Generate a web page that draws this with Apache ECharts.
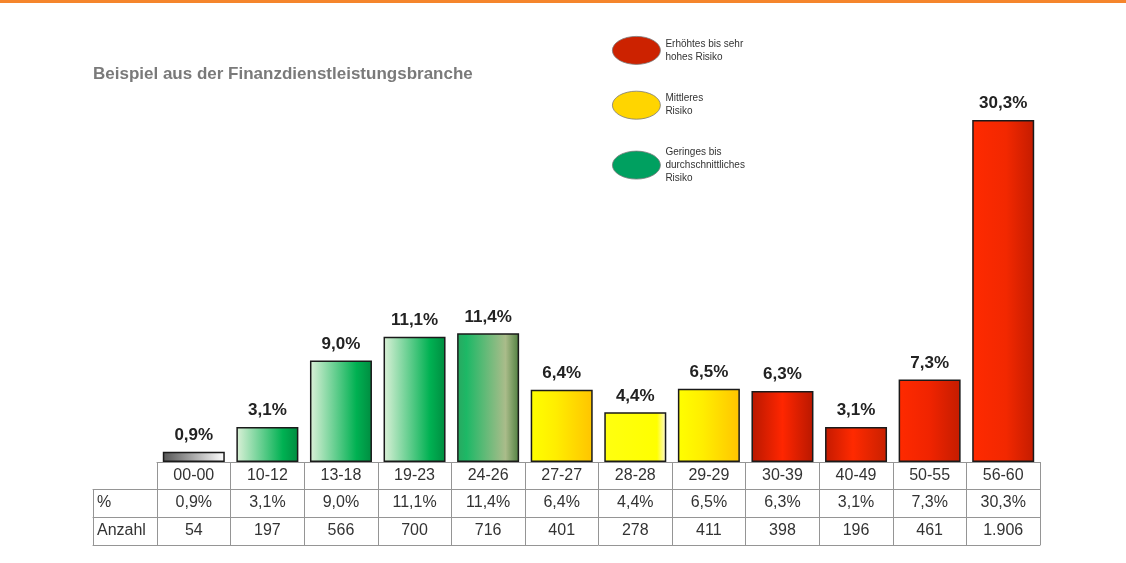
<!DOCTYPE html>
<html>
<head>
<meta charset="utf-8">
<script src="https://cdn.jsdelivr.net/npm/echarts@6/dist/echarts.min.js"></script>
<style>
html,body{margin:0;padding:0;background:#fff;}
#c{width:1126px;height:563px;}
</style>
</head>
<body>
<div id="c"></div>
<script>
// ---- data ----
const titleText = 'Beispiel aus der Finanzdienstleistungsbranche';
const categories = ['00-00','10-12','13-18','19-23','24-26','27-27','28-28','29-29','30-39','40-49','50-55','56-60'];
const percentages = [0.9, 3.1, 9.0, 11.1, 11.4, 6.4, 4.4, 6.5, 6.3, 3.1, 7.3, 30.3];
const counts = ['54','197','566','700','716','401','278','411','398','196','461','1.906'];
const rowHeaders = ['%', 'Anzahl'];
const legendNames = ['Erhöhtes bis sehr\nhohes Risiko', 'Mittleres\nRisiko', 'Geringes bis\ndurchschnittliches\nRisiko'];

// ---- styles ----
const legendColors = ['#cc2200', '#ffd500', '#00a060'];
function grad(stops){
  return {type:'linear', x:0, y:0, x2:1, y2:0,
    colorStops: stops.map(s => ({offset:s[0], color:s[1]}))};
}
const barFills = [
  grad([[0,'#555555'],[1,'#ffffff']]),
  grad([[0,'#dcf1d8'],[0.75,'#00b152'],[1,'#008c40']]),
  grad([[0,'#dcf1d8'],[0.75,'#00b152'],[1,'#008c40']]),
  grad([[0,'#dcf1d8'],[0.75,'#00b152'],[1,'#008c40']]),
  grad([[0,'#2aa860'],[0.15,'#1db866'],[0.78,'#aabc8a'],[1,'#4f7f3f']]),
  grad([[0,'#ffff00'],[0.4,'#ffee00'],[1,'#ffc400']]),
  grad([[0,'#ffff10'],[0.85,'#ffff00'],[1,'#fff8e0']]),
  grad([[0,'#ffff00'],[0.4,'#ffee00'],[1,'#ffc400']]),
  grad([[0,'#b81800'],[0.5,'#ff2600'],[1,'#b81800']]),
  grad([[0,'#c41a00'],[0.45,'#ff2a00'],[1,'#c82000']]),
  grad([[0,'#ff2a00'],[0.5,'#f02400'],[1,'#c41c00']]),
  grad([[0,'#ff2a00'],[0.55,'#f22800'],[1,'#c41c00']])
];
const lineColor = '#959595';
const font = 'Liberation Sans, Arial, sans-serif';
const fmtPct = v => v.toFixed(1).replace('.', ',') + '%';

const chart = echarts.init(document.getElementById('c'), null, {renderer:'canvas'});

const gridTop = 67, gridBottom = 101;
const tableText = {fontSize:16, color:'#333', fontFamily:font};
const lineOpt = {show:true, onZero:false, lineStyle:{color:lineColor, width:1}};

const option = {
  backgroundColor:'#fff',
  animation:false,
  textStyle:{fontFamily:font},
  graphic:[{type:'rect', left:0, top:0, shape:{width:1126, height:3}, style:{fill:'#f5852c'}, silent:true}],
  title:{text:titleText, left:93, top:66, padding:0,
    textStyle:{fontSize:17, fontWeight:'bold', color:'#7a7a7a', fontFamily:font}},
  legend:{orient:'vertical', left:612, top:36, padding:0, itemWidth:48, itemHeight:28, itemGap:26,
    icon:'path://M0,14A24,14 0 1,1 48,14A24,14 0 1,1 0,14Z',
    selectedMode:false,
    itemStyle:{borderColor:'#7a7a7a', borderWidth:0.8, opacity:1},
    textStyle:{fontSize:10, lineHeight:13, color:'#333', fontFamily:font},
    data:legendNames},
  grid:[
    {left:157, right:86, top:gridTop, bottom:gridBottom},
    {left:93, width:64, top:gridTop, bottom:gridBottom}
  ],
  xAxis:[
    {type:'category', gridIndex:0, data:categories, position:'bottom',
      axisLine:lineOpt,
      axisTick:{show:true, length:83, lineStyle:{color:lineColor, width:1}},
      axisLabel:Object.assign({margin:6}, tableText), z:1},
    {type:'category', gridIndex:0, data:percentages.map(fmtPct), position:'bottom', offset:27,
      axisLine:lineOpt, axisTick:{show:false},
      axisLabel:Object.assign({margin:6}, tableText)},
    {type:'category', gridIndex:0, data:counts, position:'bottom', offset:55,
      axisLine:lineOpt, axisTick:{show:false},
      axisLabel:Object.assign({margin:6}, tableText)},
    {type:'category', gridIndex:0, data:categories.map(()=>''), position:'bottom', offset:83,
      axisLine:lineOpt, axisTick:{show:false}, axisLabel:{show:false}},
    {type:'category', gridIndex:1, data:[rowHeaders[0]], position:'bottom', offset:27,
      axisLine:lineOpt,
      axisTick:{show:true, length:56, lineStyle:{color:lineColor}},
      axisLabel:{margin:6, formatter:v=>'{a|'+v+'}', rich:{a:Object.assign({width:56, align:'left'}, tableText)}}},
    {type:'category', gridIndex:1, data:[rowHeaders[1]], position:'bottom', offset:55,
      axisLine:lineOpt, axisTick:{show:false},
      axisLabel:{margin:6, formatter:v=>'{a|'+v+'}', rich:{a:Object.assign({width:56, align:'left'}, tableText)}}},
    {type:'category', gridIndex:1, data:[''], position:'bottom', offset:83,
      axisLine:lineOpt, axisTick:{show:false}, axisLabel:{show:false}}
  ],
  yAxis:[
    {type:'value', gridIndex:0, min:0, max:35, show:false},
    {type:'value', gridIndex:1, min:0, max:35, show:false}
  ],
  series:[
    {type:'bar', xAxisIndex:0, yAxisIndex:0, barWidth:62, z:3,
      data:percentages.map((v,i)=>({value:v, itemStyle:{color:barFills[i]}})),
      itemStyle:{borderColor:'#1a1a1a', borderWidth:1.5},
      label:{show:true, position:'top', distance:8, formatter:p=>fmtPct(p.value),
        fontSize:17, fontWeight:'bold', color:'#222', fontFamily:font}},
    ...legendNames.map((n,i)=>({type:'scatter', name:n, data:[], xAxisIndex:0, yAxisIndex:0,
      itemStyle:{color:legendColors[i], opacity:1}}))
  ]
};
chart.setOption(option);
</script>
</body>
</html>
